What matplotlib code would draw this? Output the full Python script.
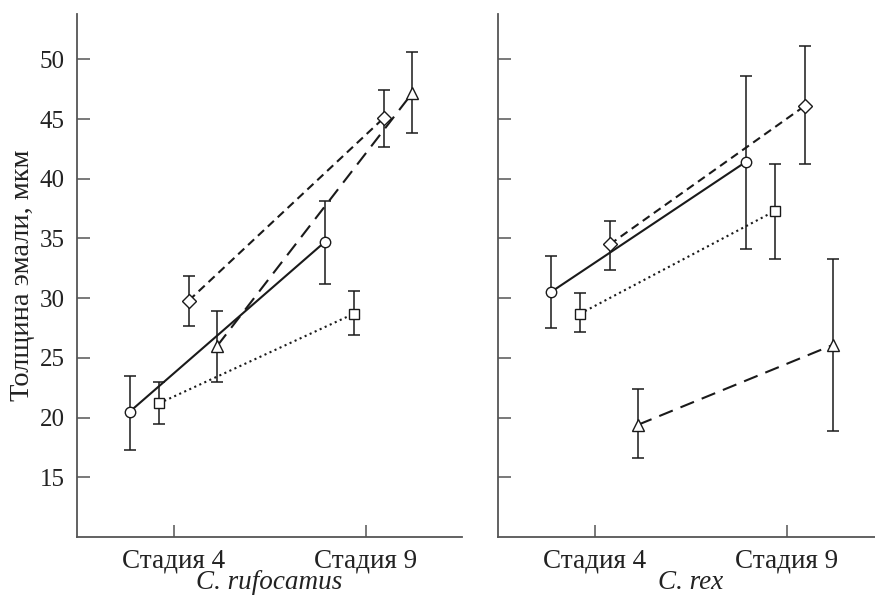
import matplotlib
matplotlib.use('Agg')
import matplotlib.pyplot as plt
import numpy as np

plt.rcParams['font.family'] = ['Liberation Serif', 'DejaVu Serif']

stages = ['Стадия 4', 'Стадия 9']
species = ['C. rufocamus', 'C. rex']

# values: [stage 4, stage 9]
# C. rufocamus
ruf_circle = [20.5, 34.7]
ruf_circle_lo = [17.3, 31.2]
ruf_circle_hi = [23.5, 38.1]
ruf_square = [21.2, 28.7]
ruf_square_lo = [19.5, 26.9]
ruf_square_hi = [23.0, 30.6]
ruf_diamond = [29.8, 45.1]
ruf_diamond_lo = [27.7, 42.7]
ruf_diamond_hi = [31.9, 47.4]
ruf_triangle = [26.0, 47.2]
ruf_triangle_lo = [23.0, 43.8]
ruf_triangle_hi = [28.9, 50.6]

# C. rex
rex_circle = [30.5, 41.4]
rex_circle_lo = [27.5, 34.1]
rex_circle_hi = [33.5, 48.6]
rex_square = [28.7, 37.3]
rex_square_lo = [27.2, 33.3]
rex_square_hi = [30.4, 41.2]
rex_diamond = [34.5, 46.1]
rex_diamond_lo = [32.4, 41.2]
rex_diamond_hi = [36.5, 51.1]
rex_triangle = [19.4, 26.1]
rex_triangle_lo = [16.6, 18.9]
rex_triangle_hi = [22.4, 33.3]

# horizontal offset of each group around the stage tick
offsets = {'circle': (-0.23, 0.785), 'square': (-0.077, 0.937),
           'diamond': (0.077, 1.093), 'triangle': (0.225, 1.242)}
styles = {'circle': ('o', '-', 7.5), 'square': ('s', ':', 6.5),
          'diamond': ('D', (0, (4, 2.5)), 7), 'triangle': ('^', (0, (7, 4)), 8.5)}

ink = '#1a1a1a'
spine_col = '#555555'
txt = '#222222'

fig = plt.figure(figsize=(8.75, 5.96), dpi=100)
ax1 = fig.add_axes([0.088, 0.099, 0.44, 0.8775])
ax2 = fig.add_axes([0.569, 0.099, 0.44, 0.8775])

panels = [
    (ax1, {'circle': (ruf_circle, ruf_circle_lo, ruf_circle_hi),
           'square': (ruf_square, ruf_square_lo, ruf_square_hi),
           'diamond': (ruf_diamond, ruf_diamond_lo, ruf_diamond_hi),
           'triangle': (ruf_triangle, ruf_triangle_lo, ruf_triangle_hi)}),
    (ax2, {'circle': (rex_circle, rex_circle_lo, rex_circle_hi),
           'square': (rex_square, rex_square_lo, rex_square_hi),
           'diamond': (rex_diamond, rex_diamond_lo, rex_diamond_hi),
           'triangle': (rex_triangle, rex_triangle_lo, rex_triangle_hi)}),
]

for (ax, groups), name in zip(panels, species):
    for key, (vals, lo, hi) in groups.items():
        xs = np.array(offsets[key])
        vals = np.array(vals)
        err = [vals - np.array(lo), np.array(hi) - vals]
        marker, ls, ms = styles[key]
        ax.errorbar(xs, vals, yerr=err, fmt='none', ecolor=ink, elinewidth=1.1,
                    capsize=4, capthick=1.1, zorder=2)
        ax.plot(xs, vals, linestyle=ls, color=ink, linewidth=1.5, zorder=3)
        ax.plot(xs, vals, linestyle='none', marker=marker, markersize=ms,
                markerfacecolor='white', markeredgecolor=ink, markeredgewidth=1.0, zorder=4)

    ax.set_xlim(-0.505, 1.5)
    ax.set_ylim(10, 53.8)
    ax.set_xticks([0, 1])
    ax.set_xticklabels(stages)
    ax.set_yticks([15, 20, 25, 30, 35, 40, 45, 50])
    ax.tick_params(direction='in', length=9, width=1.1, color=spine_col, labelcolor=txt)
    ax.tick_params(axis='x', labelsize=19.5, pad=8)
    ax.tick_params(axis='y', labelsize=18, pad=9)
    ax.set_xlabel(name, fontsize=19.5, fontstyle='italic', labelpad=-2, color=txt)
    for s in ['top', 'right']:
        ax.spines[s].set_visible(False)
    for s in ['left', 'bottom']:
        ax.spines[s].set_color(spine_col)
        ax.spines[s].set_linewidth(1.3)

ax1.set_ylabel('Толщина эмали, мкм', fontsize=20.5, color=txt, labelpad=3)
ax2.tick_params(axis='y', labelleft=False)

fig.savefig('out.png', dpi=100)
